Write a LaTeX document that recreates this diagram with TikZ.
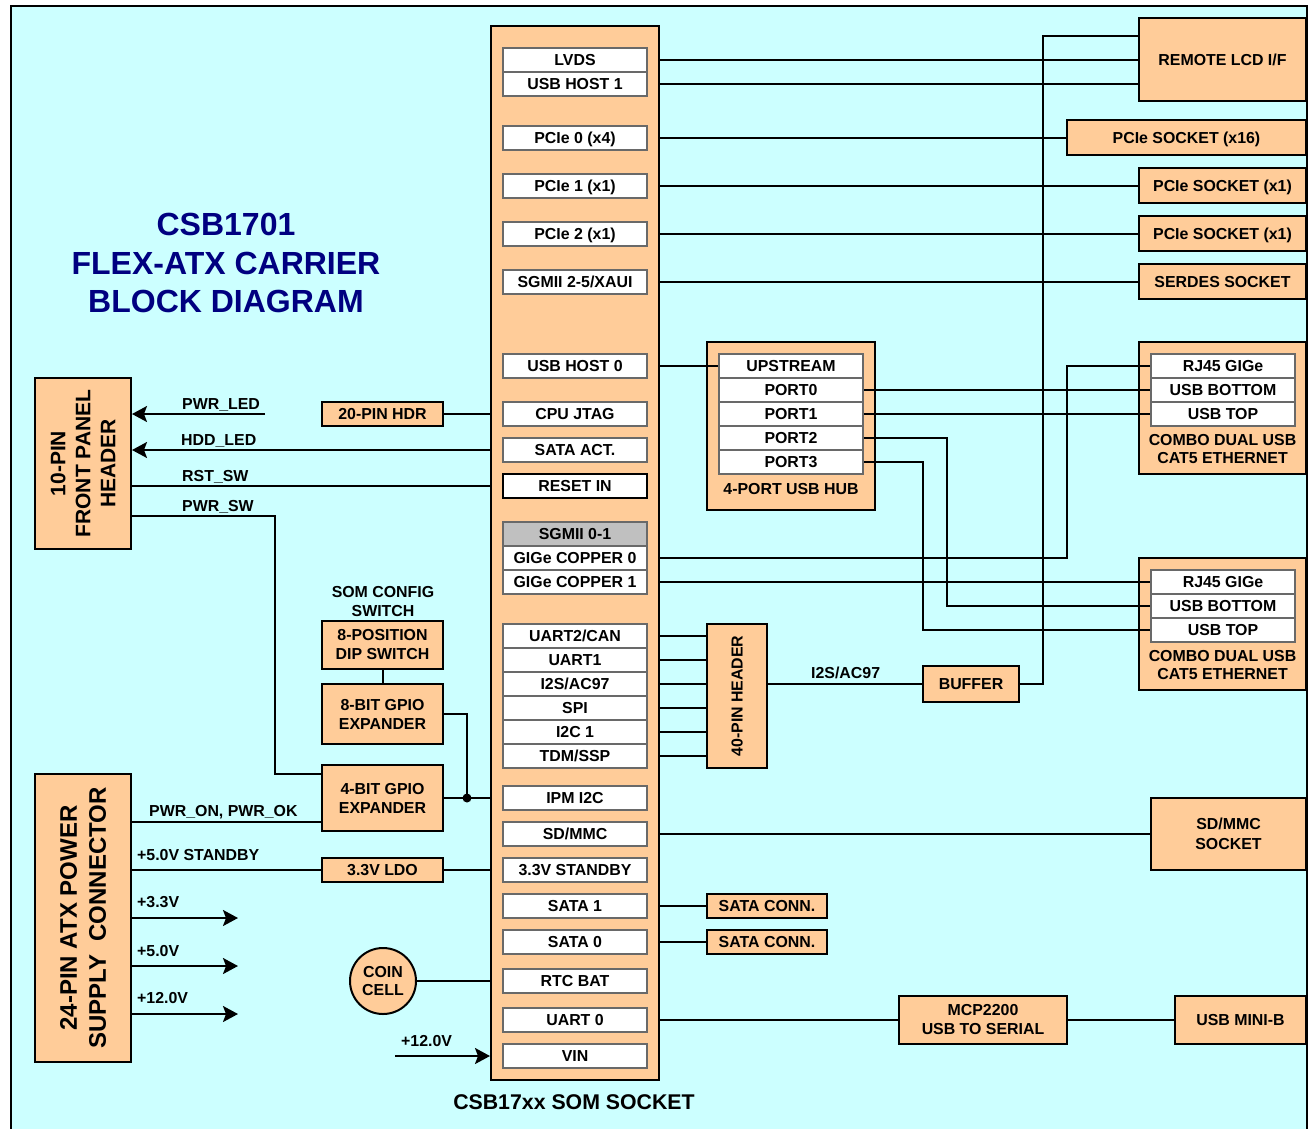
\documentclass[tikz,border=0pt]{standalone}
\usepackage{fontspec}
\setmainfont{Liberation Sans}
\usetikzlibrary{arrows.meta,calc}
\definecolor{bgc}{RGB}{204,255,255}
\definecolor{orng}{RGB}{255,204,153}
\definecolor{navy}{RGB}{0,0,128}
\definecolor{igray}{RGB}{105,105,105}
\definecolor{gfill}{RGB}{192,192,192}
\newcommand\fsz{\fontsize{15.9}{19}\selectfont\bfseries}
\begin{document}
\begin{tikzpicture}[x=1pt,y=-1pt,
  wire/.style={line width=2pt},
  obox/.style={draw, line width=2pt, fill=orng, inner sep=0pt, align=center, font=\fsz},
  one/.style={text height=11.4pt, text depth=0pt},
  ibox/.style={draw=igray, line width=1.5pt, fill=white, inner sep=0pt, minimum width=144pt, minimum height=24pt, text height=11.4pt, text depth=0pt, font=\fsz},
  lbl/.style={inner sep=0pt, font=\fsz, anchor=base west},
  arr/.style={line width=2pt, -{Stealth[length=15pt,width=16pt,inset=3pt]}}
]
\useasboundingbox (0,0) rectangle (1308,1128);
\fill[bgc] (11,6) rectangle (1307,1140);

% title
\node[inner sep=0pt, anchor=base, text=navy, font=\fontsize{32}{38}\selectfont\bfseries] (t1) at (226,235) {CSB1701};
\node[inner sep=0pt, anchor=base, text=navy, font=\fontsize{32}{38}\selectfont\bfseries] (t2) at (226,274) {FLEX-ATX CARRIER};
\node[inner sep=0pt, anchor=base, text=navy, font=\fontsize{32}{38}\selectfont\bfseries] (t3) at (226,312) {BLOCK DIAGRAM};

% SOM socket
\node[obox, minimum width=168pt, minimum height=1054pt] (som) at (575,553) {};
\node[ibox] (lvds) at (575,60) {LVDS};
\node[ibox] (usbh1) at (575,84) {USB HOST 1};
\node[ibox] (pcie0) at (575,138) {PCIe 0 (x4)};
\node[ibox] (pcie1) at (575,186) {PCIe 1 (x1)};
\node[ibox] (pcie2) at (575,234) {PCIe 2 (x1)};
\node[ibox] (sgmii25) at (575,282) {SGMII 2-5/XAUI};
\node[ibox] (usbh0) at (575,366) {USB HOST 0};
\node[ibox] (jtag) at (575,414) {CPU JTAG};
\node[ibox] (sataact) at (575,450) {SATA ACT.};
\node[ibox, draw=black] (reset) at (575,486) {RESET IN};
\node[ibox, fill=gfill] (sgmii01) at (575,534) {SGMII 0-1};
\node[ibox] (gige0) at (575,558) {GIGe COPPER 0};
\node[ibox] (gige1) at (575,582) {GIGe COPPER 1};
\node[ibox] (uart2) at (575,636) {UART2/CAN};
\node[ibox] (uart1) at (575,660) {UART1};
\node[ibox] (i2s) at (575,684) {I2S/AC97};
\node[ibox] (spi) at (575,708) {SPI};
\node[ibox] (i2c1) at (575,732) {I2C 1};
\node[ibox] (tdm) at (575,756) {TDM/SSP};
\node[ibox] (ipm) at (575,798) {IPM I2C};
\node[ibox] (sdmmc) at (575,834) {SD/MMC};
\node[ibox] (stby) at (575,870) {3.3V STANDBY};
\node[ibox] (sata1) at (575,906) {SATA 1};
\node[ibox] (sata0) at (575,942) {SATA 0};
\node[ibox] (rtc) at (575,981) {RTC BAT};
\node[ibox] (uart0) at (575,1020) {UART 0};
\node[ibox] (vin) at (575,1056) {VIN};
\node[inner sep=0pt, anchor=base, font=\fontsize{21.3}{25}\selectfont\bfseries] (somlbl) at (574,1109) {CSB17xx SOM SOCKET};

% right column
\node[obox, one, minimum width=167pt, minimum height=83pt] (lcd) at (1222.5,59.5) {REMOTE LCD I/F};
\node[obox, one, minimum width=239pt, minimum height=35pt] (x16) at (1186.5,137.5) {PCIe SOCKET (x16)};
\node[obox, one, minimum width=167pt, minimum height=35pt] (x1a) at (1222.5,185.5) {PCIe SOCKET (x1)};
\node[obox, one, minimum width=167pt, minimum height=35pt] (x1b) at (1222.5,233.5) {PCIe SOCKET (x1)};
\node[obox, one, minimum width=167pt, minimum height=35pt] (serdes) at (1222.5,281.5) {SERDES SOCKET};

\node[obox, minimum width=167pt, minimum height=132pt] (c1) at (1222.5,408) {};
\node[ibox] (rj1) at (1223,366) {RJ45 GIGe};
\node[ibox] (bot1) at (1223,390) {USB BOTTOM};
\node[ibox] (top1) at (1223,414) {USB TOP};
\node[inner sep=0pt, align=center, font=\fontsize{15.9}{18}\selectfont\bfseries] (c1l) at (1222.5,449) {COMBO DUAL USB\\CAT5 ETHERNET};

\node[obox, minimum width=167pt, minimum height=132pt] (c2) at (1222.5,624) {};
\node[ibox] (rj2) at (1223,582) {RJ45 GIGe};
\node[ibox] (bot2) at (1223,606) {USB BOTTOM};
\node[ibox] (top2) at (1223,630) {USB TOP};
\node[inner sep=0pt, align=center, font=\fontsize{15.9}{18}\selectfont\bfseries] (c2l) at (1222.5,665) {COMBO DUAL USB\\CAT5 ETHERNET};

% USB hub
\node[obox, minimum width=168pt, minimum height=168pt] (hub) at (791,426) {};
\node[ibox] (up) at (791,366) {UPSTREAM};
\node[ibox] (p0) at (791,390) {PORT0};
\node[ibox] (p1) at (791,414) {PORT1};
\node[ibox] (p2) at (791,438) {PORT2};
\node[ibox] (p3) at (791,462) {PORT3};
\node[inner sep=0pt, one, font=\fsz] (hubl) at (791,489) {4-PORT USB HUB};

% 40-pin header, buffer
\node[obox, minimum width=60pt, minimum height=144pt] (h40) at (737,696) {};
\node[inner sep=0pt, one, rotate=90, font=\fsz] (h40l) at (737,696) {40-PIN HEADER};
\node[obox, one, minimum width=96pt, minimum height=36pt] (buf) at (971,684) {BUFFER};

% lower right
\node[obox, minimum width=155pt, minimum height=72pt, font=\fontsize{15.9}{20}\selectfont\bfseries] (sds) at (1228.5,834) {SD/MMC\\SOCKET};
\node[obox, minimum width=168pt, minimum height=48pt] (mcp) at (983,1020) {MCP2200\\USB TO SERIAL};
\node[obox, one, minimum width=131pt, minimum height=48pt] (mini) at (1240.5,1020) {USB MINI-B};
\node[obox, one, minimum width=120pt, minimum height=24pt] (sc1) at (767,906) {SATA CONN.};
\node[obox, one, minimum width=120pt, minimum height=24pt] (sc0) at (767,942) {SATA CONN.};

% left side
\node[obox, minimum width=96pt, minimum height=171pt] (fp) at (83,463.5) {};
\node[inner sep=0pt, rotate=90, align=center, font=\fontsize{21}{25}\selectfont\bfseries] (fpl) at (83,463.5) {10-PIN\\FRONT PANEL\\HEADER};
\node[obox, minimum width=96pt, minimum height=288pt] (atx) at (83,918) {};
\node[inner sep=0pt, rotate=90, align=center, font=\fontsize{24}{29}\selectfont\bfseries] (atxl) at (83,918) {24-PIN ATX POWER\\SUPPLY\ \ CONNECTOR};
\node[obox, one, minimum width=121pt, minimum height=24pt] (hdr20) at (382.5,414) {20-PIN HDR};
\node[obox, minimum width=121pt, minimum height=48pt] (dip) at (382.5,645) {8-POSITION\\DIP SWITCH};
\node[obox, minimum width=121pt, minimum height=60pt] (gpio8) at (382.5,714) {8-BIT GPIO\\EXPANDER};
\node[obox, minimum width=121pt, minimum height=66pt] (gpio4) at (382.5,798) {4-BIT GPIO\\EXPANDER};
\node[obox, one, minimum width=121pt, minimum height=24pt] (ldo) at (382.5,870) {3.3V LDO};
\node[circle, draw, line width=2pt, fill=orng, minimum size=66pt, inner sep=0pt, align=center, font=\fontsize{15.9}{18}\selectfont\bfseries] (coin) at (383,981) {COIN\\CELL};
\node[inner sep=0pt, anchor=base, font=\fsz] (cfg1) at (383,597) {SOM CONFIG};
\node[inner sep=0pt, anchor=base, font=\fsz] (cfg2) at (383,616) {SWITCH};

% labels
\node[lbl] (lpl) at (182,409) {PWR\_LED};
\node[lbl] (lhl) at (181,445) {HDD\_LED};
\node[lbl] (lrs) at (182,481) {RST\_SW};
\node[lbl] (lps) at (182,511) {PWR\_SW};
\node[lbl] (lpo) at (149,816) {PWR\_ON, PWR\_OK};
\node[lbl] (l5s) at (137,860) {+5.0V STANDBY};
\node[lbl] (l33) at (137,907) {+3.3V};
\node[lbl] (l50) at (137,956) {+5.0V};
\node[lbl] (l12) at (137,1003) {+12.0V};
\node[lbl] (lv12) at (401,1046) {+12.0V};
\node[lbl] (li2s) at (811,678) {I2S/AC97};

% connectors: right
\draw[wire] (som.east |- lvds) -- (lcd.west |- lvds);
\draw[wire] (som.east |- usbh1) -- (lcd.west |- usbh1);
\coordinate (lk) at (1043,36);
\draw[wire] (buf.east) -| (lk) -- (lcd.west |- lk);
\draw[wire] (som.east |- pcie0) -- (x16.west |- pcie0);
\draw[wire] (som.east |- pcie1) -- (x1a.west |- pcie1);
\draw[wire] (som.east |- pcie2) -- (x1b.west |- pcie2);
\draw[wire] (som.east |- sgmii25) -- (serdes.west |- sgmii25);
\draw[wire] (som.east |- usbh0) -- (up.west);
\draw[wire] (p0.east) -- (bot1.west);
\draw[wire] (p1.east) -- (top1.west);
\coordinate (k2) at (947,606);
\draw[wire] (p2.east) -| (k2) -- (bot2.west);
\coordinate (k3) at (923,630);
\draw[wire] (p3.east) -| (k3) -- (top2.west);
\coordinate (k0) at (1067,366);
\draw[wire] (som.east |- gige0) -| (k0) -- (rj1.west);
\draw[wire] (som.east |- gige1) -- (rj2.west);
\foreach \n in {uart2,uart1,i2s,spi,i2c1,tdm}
  \draw[wire] (som.east |- \n) -- (h40.west |- \n);
\draw[wire] (h40.east |- i2s) -- (buf.west);
\draw[wire] (som.east |- sdmmc) -- (sds.west |- sdmmc);
\draw[wire] (som.east |- sata1) -- (sc1.west);
\draw[wire] (som.east |- sata0) -- (sc0.west);
\draw[wire] (som.east |- uart0) -- (mcp.west);
\draw[wire] (mcp.east) -- (mini.west);

% connectors: left
\draw[wire] (coin.east) -- (som.west |- coin);
\coordinate (v12) at (395,1056);
\draw[arr] (v12) -- (som.west |- vin);
\draw[wire] (hdr20.east) -- (som.west |- hdr20);
\coordinate (pl) at (265,414);
\draw[arr] (pl) -- (fp.east |- pl);
\draw[arr] (som.west |- sataact) -- (fp.east |- sataact);
\draw[wire] (fp.east |- reset) -- (som.west |- reset);
\coordinate (ps) at (275,516);
\coordinate (ps2) at (275,774);
\draw[wire] (fp.east |- ps) -- (ps) -- (ps2) -- (gpio4.west |- ps2);
\draw[wire] (dip.south) -- (gpio8.north);
\coordinate (jd) at (467,798);
\draw[wire] (gpio8.east) -| (jd);
\draw[wire] (gpio4.east |- jd) -- (som.west |- jd);
\fill (jd) circle (4.5);
\coordinate (pw) at (200,822);
\draw[wire] (atx.east |- pw) -- (gpio4.west |- pw);
\draw[wire] (atx.east |- ldo) -- (ldo.west);
\draw[wire] (ldo.east) -- (som.west |- ldo);
\coordinate (a33) at (238,918);
\coordinate (a50) at (238,966);
\coordinate (a12) at (238,1014);
\draw[arr] (atx.east |- a33) -- (a33);
\draw[arr] (atx.east |- a50) -- (a50);
\draw[arr] (atx.east |- a12) -- (a12);

\draw[line width=2pt] (11,6) rectangle (1307,1140);
\end{tikzpicture}
\end{document}
